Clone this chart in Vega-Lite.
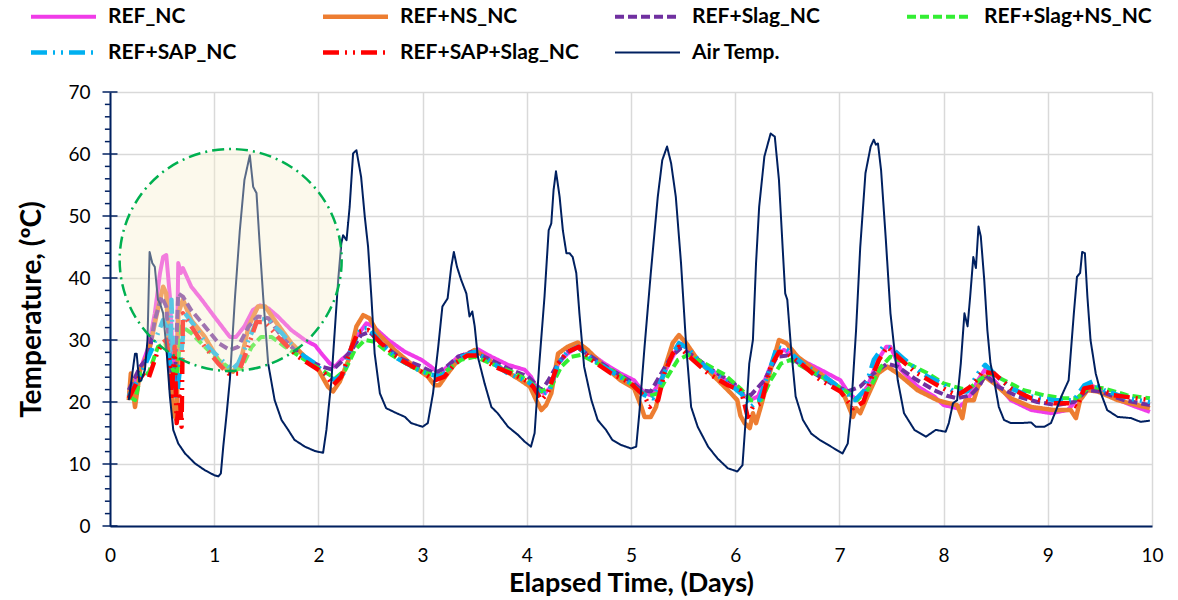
{
"$schema": "https://vega.github.io/schema/vega-lite/v6.json",
"width": 1042, "height": 434,
"autosize": {"type": "none"},
"padding": {"left": 110, "top": 92, "right": 26, "bottom": 74},
"background": "white",
"config": {"view": {"stroke": null}, "font": "Lato"},
"datasets": {
"circle": [{"day": 1.158, "temp": 42.9}],
"majorTicks": [{"temp":0},{"temp":10},{"temp":20},{"temp":30},{"temp":40},{"temp":50},{"temp":60},{"temp":70}],
"minorTicks": [{"temp":2},{"temp":4},{"temp":6},{"temp":8},{"temp":12},{"temp":14},{"temp":16},{"temp":18},{"temp":22},{"temp":24},{"temp":26},{"temp":28},{"temp":32},{"temp":34},{"temp":36},{"temp":38},{"temp":42},{"temp":44},{"temp":46},{"temp":48},{"temp":52},{"temp":54},{"temp":56},{"temp":58},{"temp":62},{"temp":64},{"temp":66},{"temp":68}],
"temps": [
{"series":"REF_NC","day":0.18,"temp":21.4},{"series":"REF_NC","day":0.29,"temp":25.2},{"series":"REF_NC","day":0.37,"temp":28.9},{"series":"REF_NC","day":0.43,"temp":34.3},{"series":"REF_NC","day":0.48,"temp":40.8},{"series":"REF_NC","day":0.51,"temp":43.4},{"series":"REF_NC","day":0.54,"temp":43.7},{"series":"REF_NC","day":0.575,"temp":37},{"series":"REF_NC","day":0.607,"temp":26.2},{"series":"REF_NC","day":0.64,"temp":24.6},{"series":"REF_NC","day":0.655,"temp":42.4},{"series":"REF_NC","day":0.68,"temp":40.8},{"series":"REF_NC","day":0.7,"temp":41.6},{"series":"REF_NC","day":0.78,"temp":38.6},{"series":"REF_NC","day":0.88,"temp":36.5},{"series":"REF_NC","day":1.0,"temp":33.8},{"series":"REF_NC","day":1.1,"temp":31.6},{"series":"REF_NC","day":1.15,"temp":30.5},{"series":"REF_NC","day":1.21,"temp":30.5},{"series":"REF_NC","day":1.29,"temp":32.2},{"series":"REF_NC","day":1.37,"temp":34.8},{"series":"REF_NC","day":1.44,"temp":35.6},{"series":"REF_NC","day":1.52,"temp":35.1},{"series":"REF_NC","day":1.61,"temp":33.8},{"series":"REF_NC","day":1.74,"temp":31.6},{"series":"REF_NC","day":1.87,"temp":30},{"series":"REF_NC","day":1.97,"temp":29.1},{"series":"REF_NC","day":2.03,"temp":27.8},{"series":"REF_NC","day":2.11,"temp":26.2},{"series":"REF_NC","day":2.16,"temp":25.7},{"series":"REF_NC","day":2.22,"temp":26.8},{"series":"REF_NC","day":2.29,"temp":27.8},{"series":"REF_NC","day":2.365,"temp":30.5},{"series":"REF_NC","day":2.46,"temp":32.7},{"series":"REF_NC","day":2.525,"temp":32.2},{"series":"REF_NC","day":2.67,"temp":30},{"series":"REF_NC","day":2.83,"temp":28.1},{"series":"REF_NC","day":2.99,"temp":26.8},{"series":"REF_NC","day":3.08,"temp":25.7},{"series":"REF_NC","day":3.16,"temp":24.6},{"series":"REF_NC","day":3.24,"temp":25.7},{"series":"REF_NC","day":3.34,"temp":27.3},{"series":"REF_NC","day":3.43,"temp":27.8},{"series":"REF_NC","day":3.53,"temp":28.5},{"series":"REF_NC","day":3.66,"temp":27.3},{"series":"REF_NC","day":3.82,"temp":26},{"series":"REF_NC","day":3.98,"temp":25.2},{"series":"REF_NC","day":4.04,"temp":24.1},{"series":"REF_NC","day":4.106,"temp":21.9},{"series":"REF_NC","day":4.17,"temp":21.4},{"series":"REF_NC","day":4.235,"temp":22.5},{"series":"REF_NC","day":4.3,"temp":26.2},{"series":"REF_NC","day":4.39,"temp":27.8},{"series":"REF_NC","day":4.49,"temp":28.9},{"series":"REF_NC","day":4.585,"temp":28.1},{"series":"REF_NC","day":4.745,"temp":26.2},{"series":"REF_NC","day":4.9,"temp":24.6},{"series":"REF_NC","day":5.03,"temp":23.5},{"series":"REF_NC","day":5.13,"temp":21.4},{"series":"REF_NC","day":5.19,"temp":21.1},{"series":"REF_NC","day":5.25,"temp":22.5},{"series":"REF_NC","day":5.35,"temp":25.7},{"series":"REF_NC","day":5.45,"temp":28.9},{"series":"REF_NC","day":5.5,"temp":29.5},{"series":"REF_NC","day":5.61,"temp":27.3},{"series":"REF_NC","day":5.77,"temp":25.2},{"series":"REF_NC","day":5.93,"temp":23.3},{"series":"REF_NC","day":6.0,"temp":22.7},{"series":"REF_NC","day":6.06,"temp":21.4},{"series":"REF_NC","day":6.14,"temp":20.3},{"series":"REF_NC","day":6.22,"temp":20.9},{"series":"REF_NC","day":6.31,"temp":24.6},{"series":"REF_NC","day":6.39,"temp":27.8},{"series":"REF_NC","day":6.47,"temp":28.4},{"series":"REF_NC","day":6.63,"temp":26.8},{"series":"REF_NC","day":6.82,"temp":25.2},{"series":"REF_NC","day":7.01,"temp":23.5},{"series":"REF_NC","day":7.09,"temp":21.4},{"series":"REF_NC","day":7.17,"temp":20.3},{"series":"REF_NC","day":7.27,"temp":22.5},{"series":"REF_NC","day":7.37,"temp":26.8},{"series":"REF_NC","day":7.45,"temp":28.9},{"series":"REF_NC","day":7.49,"temp":28.9},{"series":"REF_NC","day":7.59,"temp":25.2},{"series":"REF_NC","day":7.75,"temp":22.5},{"series":"REF_NC","day":7.91,"temp":20.9},{"series":"REF_NC","day":8.0,"temp":19.5},{"series":"REF_NC","day":8.13,"temp":19},{"series":"REF_NC","day":8.23,"temp":20.3},{"series":"REF_NC","day":8.33,"temp":23.5},{"series":"REF_NC","day":8.395,"temp":25.2},{"series":"REF_NC","day":8.485,"temp":23.5},{"series":"REF_NC","day":8.645,"temp":20.3},{"series":"REF_NC","day":8.84,"temp":18.7},{"series":"REF_NC","day":9.03,"temp":18.2},{"series":"REF_NC","day":9.19,"temp":18.7},{"series":"REF_NC","day":9.28,"temp":20.3},{"series":"REF_NC","day":9.38,"temp":22.5},{"series":"REF_NC","day":9.44,"temp":22.5},{"series":"REF_NC","day":9.6,"temp":20.9},{"series":"REF_NC","day":9.8,"temp":19.5},{"series":"REF_NC","day":9.98,"temp":18.4},
{"series":"REF+NS_NC","day":0.18,"temp":20.3},{"series":"REF+NS_NC","day":0.2,"temp":24.6},{"series":"REF+NS_NC","day":0.24,"temp":19.2},{"series":"REF+NS_NC","day":0.29,"temp":25.2},{"series":"REF+NS_NC","day":0.37,"temp":27.8},{"series":"REF+NS_NC","day":0.45,"temp":34.3},{"series":"REF+NS_NC","day":0.51,"temp":38.6},{"series":"REF+NS_NC","day":0.54,"temp":37.5},{"series":"REF+NS_NC","day":0.575,"temp":26.2},{"series":"REF+NS_NC","day":0.607,"temp":18.2},{"series":"REF+NS_NC","day":0.64,"temp":17.1},{"series":"REF+NS_NC","day":0.655,"temp":34.3},{"series":"REF+NS_NC","day":0.7,"temp":36.5},{"series":"REF+NS_NC","day":0.78,"temp":33.2},{"series":"REF+NS_NC","day":0.91,"temp":30.5},{"series":"REF+NS_NC","day":1.04,"temp":26.8},{"series":"REF+NS_NC","day":1.12,"temp":25.2},{"series":"REF+NS_NC","day":1.18,"temp":24.9},{"series":"REF+NS_NC","day":1.25,"temp":26.2},{"series":"REF+NS_NC","day":1.33,"temp":32.2},{"series":"REF+NS_NC","day":1.42,"temp":35.4},{"series":"REF+NS_NC","day":1.49,"temp":35.4},{"series":"REF+NS_NC","day":1.58,"temp":33.2},{"series":"REF+NS_NC","day":1.74,"temp":29.5},{"series":"REF+NS_NC","day":1.87,"temp":27.3},{"series":"REF+NS_NC","day":2.0,"temp":25.2},{"series":"REF+NS_NC","day":2.09,"temp":22.5},{"series":"REF+NS_NC","day":2.14,"temp":21.7},{"series":"REF+NS_NC","day":2.205,"temp":23.3},{"series":"REF+NS_NC","day":2.29,"temp":26.8},{"series":"REF+NS_NC","day":2.365,"temp":32.2},{"series":"REF+NS_NC","day":2.43,"temp":34},{"series":"REF+NS_NC","day":2.49,"temp":33.5},{"series":"REF+NS_NC","day":2.57,"temp":31.1},{"series":"REF+NS_NC","day":2.73,"temp":28.4},{"series":"REF+NS_NC","day":2.92,"temp":25.7},{"series":"REF+NS_NC","day":3.05,"temp":24.1},{"series":"REF+NS_NC","day":3.115,"temp":22.7},{"series":"REF+NS_NC","day":3.16,"temp":22.7},{"series":"REF+NS_NC","day":3.24,"temp":24.6},{"series":"REF+NS_NC","day":3.34,"temp":26.8},{"series":"REF+NS_NC","day":3.5,"temp":28.4},{"series":"REF+NS_NC","day":3.595,"temp":27.3},{"series":"REF+NS_NC","day":3.755,"temp":25.4},{"series":"REF+NS_NC","day":3.915,"temp":23.8},{"series":"REF+NS_NC","day":4.03,"temp":22.5},{"series":"REF+NS_NC","day":4.09,"temp":20.3},{"series":"REF+NS_NC","day":4.14,"temp":18.7},{"series":"REF+NS_NC","day":4.185,"temp":19.5},{"series":"REF+NS_NC","day":4.235,"temp":21.4},{"series":"REF+NS_NC","day":4.3,"temp":27.8},{"series":"REF+NS_NC","day":4.39,"temp":28.9},{"series":"REF+NS_NC","day":4.49,"temp":29.6},{"series":"REF+NS_NC","day":4.585,"temp":28.4},{"series":"REF+NS_NC","day":4.745,"temp":25.7},{"series":"REF+NS_NC","day":4.9,"temp":23.5},{"series":"REF+NS_NC","day":5.03,"temp":22.2},{"series":"REF+NS_NC","day":5.1,"temp":19.2},{"series":"REF+NS_NC","day":5.13,"temp":17.6},{"series":"REF+NS_NC","day":5.19,"temp":17.6},{"series":"REF+NS_NC","day":5.24,"temp":19.2},{"series":"REF+NS_NC","day":5.32,"temp":25.2},{"series":"REF+NS_NC","day":5.4,"temp":29.5},{"series":"REF+NS_NC","day":5.46,"temp":30.8},{"series":"REF+NS_NC","day":5.53,"temp":29.5},{"series":"REF+NS_NC","day":5.64,"temp":26.8},{"series":"REF+NS_NC","day":5.8,"temp":24.1},{"series":"REF+NS_NC","day":5.96,"temp":21.4},{"series":"REF+NS_NC","day":6.02,"temp":20.3},{"series":"REF+NS_NC","day":6.05,"temp":17.8},{"series":"REF+NS_NC","day":6.09,"temp":16.6},{"series":"REF+NS_NC","day":6.14,"temp":15.8},{"series":"REF+NS_NC","day":6.17,"temp":18.2},{"series":"REF+NS_NC","day":6.2,"temp":16.6},{"series":"REF+NS_NC","day":6.25,"temp":19.5},{"series":"REF+NS_NC","day":6.34,"temp":25.2},{"series":"REF+NS_NC","day":6.42,"temp":30},{"series":"REF+NS_NC","day":6.49,"temp":29.5},{"series":"REF+NS_NC","day":6.6,"temp":27.3},{"series":"REF+NS_NC","day":6.76,"temp":25.2},{"series":"REF+NS_NC","day":6.95,"temp":23},{"series":"REF+NS_NC","day":7.05,"temp":20.9},{"series":"REF+NS_NC","day":7.13,"temp":17.6},{"series":"REF+NS_NC","day":7.16,"temp":19},{"series":"REF+NS_NC","day":7.2,"temp":18.2},{"series":"REF+NS_NC","day":7.27,"temp":20.9},{"series":"REF+NS_NC","day":7.37,"temp":24.6},{"series":"REF+NS_NC","day":7.46,"temp":25.7},{"series":"REF+NS_NC","day":7.56,"temp":24.6},{"series":"REF+NS_NC","day":7.75,"temp":21.9},{"series":"REF+NS_NC","day":7.94,"temp":20.3},{"series":"REF+NS_NC","day":8.0,"temp":20},{"series":"REF+NS_NC","day":8.13,"temp":19.5},{"series":"REF+NS_NC","day":8.18,"temp":17.4},{"series":"REF+NS_NC","day":8.21,"temp":20.3},{"series":"REF+NS_NC","day":8.29,"temp":20.3},{"series":"REF+NS_NC","day":8.33,"temp":22.5},{"series":"REF+NS_NC","day":8.395,"temp":24.1},{"series":"REF+NS_NC","day":8.485,"temp":23},{"series":"REF+NS_NC","day":8.645,"temp":20.6},{"series":"REF+NS_NC","day":8.84,"temp":19.2},{"series":"REF+NS_NC","day":9.06,"temp":18.7},{"series":"REF+NS_NC","day":9.22,"temp":18.7},{"series":"REF+NS_NC","day":9.27,"temp":17.4},{"series":"REF+NS_NC","day":9.31,"temp":20.3},{"series":"REF+NS_NC","day":9.38,"temp":21.9},{"series":"REF+NS_NC","day":9.48,"temp":21.7},{"series":"REF+NS_NC","day":9.67,"temp":20.3},{"series":"REF+NS_NC","day":9.98,"temp":19},
{"series":"REF+Slag_NC","day":0.18,"temp":21.9},{"series":"REF+Slag_NC","day":0.29,"temp":25.7},{"series":"REF+Slag_NC","day":0.37,"temp":27.3},{"series":"REF+Slag_NC","day":0.43,"temp":33.2},{"series":"REF+Slag_NC","day":0.495,"temp":37},{"series":"REF+Slag_NC","day":0.54,"temp":35.4},{"series":"REF+Slag_NC","day":0.59,"temp":24.6},{"series":"REF+Slag_NC","day":0.62,"temp":22.5},{"series":"REF+Slag_NC","day":0.655,"temp":37.5},{"series":"REF+Slag_NC","day":0.7,"temp":37},{"series":"REF+Slag_NC","day":0.78,"temp":34.8},{"series":"REF+Slag_NC","day":0.91,"temp":32.2},{"series":"REF+Slag_NC","day":1.04,"temp":29.5},{"series":"REF+Slag_NC","day":1.15,"temp":28.4},{"series":"REF+Slag_NC","day":1.23,"temp":28.9},{"series":"REF+Slag_NC","day":1.33,"temp":32.2},{"series":"REF+Slag_NC","day":1.42,"temp":33.8},{"series":"REF+Slag_NC","day":1.52,"temp":33.5},{"series":"REF+Slag_NC","day":1.65,"temp":30.5},{"series":"REF+Slag_NC","day":1.77,"temp":28.4},{"series":"REF+Slag_NC","day":1.9,"temp":26.8},{"series":"REF+Slag_NC","day":2.03,"temp":25.7},{"series":"REF+Slag_NC","day":2.14,"temp":25.2},{"series":"REF+Slag_NC","day":2.22,"temp":26.5},{"series":"REF+Slag_NC","day":2.32,"temp":28.4},{"series":"REF+Slag_NC","day":2.41,"temp":30.8},{"series":"REF+Slag_NC","day":2.49,"temp":31.3},{"series":"REF+Slag_NC","day":2.6,"temp":29.5},{"series":"REF+Slag_NC","day":2.79,"temp":27},{"series":"REF+Slag_NC","day":2.99,"temp":25.7},{"series":"REF+Slag_NC","day":3.115,"temp":24.6},{"series":"REF+Slag_NC","day":3.23,"temp":25.7},{"series":"REF+Slag_NC","day":3.34,"temp":27.3},{"series":"REF+Slag_NC","day":3.47,"temp":28.1},{"series":"REF+Slag_NC","day":3.63,"temp":27},{"series":"REF+Slag_NC","day":3.82,"temp":25.4},{"series":"REF+Slag_NC","day":4.01,"temp":24.1},{"series":"REF+Slag_NC","day":4.06,"temp":23.3},{"series":"REF+Slag_NC","day":4.14,"temp":21.9},{"series":"REF+Slag_NC","day":4.2,"temp":23.3},{"series":"REF+Slag_NC","day":4.3,"temp":26.2},{"series":"REF+Slag_NC","day":4.39,"temp":28.1},{"series":"REF+Slag_NC","day":4.49,"temp":28.7},{"series":"REF+Slag_NC","day":4.62,"temp":27.3},{"series":"REF+Slag_NC","day":4.81,"temp":25.2},{"series":"REF+Slag_NC","day":5.0,"temp":23.3},{"series":"REF+Slag_NC","day":5.1,"temp":21.9},{"series":"REF+Slag_NC","day":5.19,"temp":21.7},{"series":"REF+Slag_NC","day":5.29,"temp":24.6},{"series":"REF+Slag_NC","day":5.385,"temp":27.3},{"series":"REF+Slag_NC","day":5.48,"temp":28.7},{"series":"REF+Slag_NC","day":5.61,"temp":27.3},{"series":"REF+Slag_NC","day":5.8,"temp":24.9},{"series":"REF+Slag_NC","day":5.99,"temp":23},{"series":"REF+Slag_NC","day":6.06,"temp":21.4},{"series":"REF+Slag_NC","day":6.15,"temp":21.1},{"series":"REF+Slag_NC","day":6.28,"temp":23.5},{"series":"REF+Slag_NC","day":6.4,"temp":27.3},{"series":"REF+Slag_NC","day":6.5,"temp":27.5},{"series":"REF+Slag_NC","day":6.7,"temp":25.2},{"series":"REF+Slag_NC","day":6.92,"temp":23},{"series":"REF+Slag_NC","day":7.08,"temp":21.7},{"series":"REF+Slag_NC","day":7.2,"temp":22.5},{"series":"REF+Slag_NC","day":7.33,"temp":24.6},{"series":"REF+Slag_NC","day":7.46,"temp":26.2},{"series":"REF+Slag_NC","day":7.56,"temp":25.7},{"series":"REF+Slag_NC","day":7.72,"temp":23.8},{"series":"REF+Slag_NC","day":7.91,"temp":21.9},{"series":"REF+Slag_NC","day":8.03,"temp":21},{"series":"REF+Slag_NC","day":8.13,"temp":20.6},{"series":"REF+Slag_NC","day":8.26,"temp":21.1},{"series":"REF+Slag_NC","day":8.34,"temp":22.5},{"series":"REF+Slag_NC","day":8.4,"temp":24.4},{"series":"REF+Slag_NC","day":8.52,"temp":22.5},{"series":"REF+Slag_NC","day":8.71,"temp":20.9},{"series":"REF+Slag_NC","day":8.9,"temp":20},{"series":"REF+Slag_NC","day":9.09,"temp":19.5},{"series":"REF+Slag_NC","day":9.25,"temp":20},{"series":"REF+Slag_NC","day":9.38,"temp":21.9},{"series":"REF+Slag_NC","day":9.5,"temp":21.7},{"series":"REF+Slag_NC","day":9.73,"temp":20.3},{"series":"REF+Slag_NC","day":9.98,"temp":19.5},
{"series":"REF+Slag+NS_NC","day":0.18,"temp":20.9},{"series":"REF+Slag+NS_NC","day":0.24,"temp":20.3},{"series":"REF+Slag+NS_NC","day":0.3,"temp":24.6},{"series":"REF+Slag+NS_NC","day":0.37,"temp":24.6},{"series":"REF+Slag+NS_NC","day":0.46,"temp":28.9},{"series":"REF+Slag+NS_NC","day":0.53,"temp":29.5},{"series":"REF+Slag+NS_NC","day":0.59,"temp":25.7},{"series":"REF+Slag+NS_NC","day":0.64,"temp":24.1},{"series":"REF+Slag+NS_NC","day":0.687,"temp":32.2},{"series":"REF+Slag+NS_NC","day":0.78,"temp":31.1},{"series":"REF+Slag+NS_NC","day":0.91,"temp":28.9},{"series":"REF+Slag+NS_NC","day":1.04,"temp":26.8},{"series":"REF+Slag+NS_NC","day":1.17,"temp":25.2},{"series":"REF+Slag+NS_NC","day":1.26,"temp":25.4},{"series":"REF+Slag+NS_NC","day":1.36,"temp":28.9},{"series":"REF+Slag+NS_NC","day":1.45,"temp":30.5},{"series":"REF+Slag+NS_NC","day":1.55,"temp":30.5},{"series":"REF+Slag+NS_NC","day":1.68,"temp":28.9},{"series":"REF+Slag+NS_NC","day":1.87,"temp":26.8},{"series":"REF+Slag+NS_NC","day":2.03,"temp":25.2},{"series":"REF+Slag+NS_NC","day":2.16,"temp":23.8},{"series":"REF+Slag+NS_NC","day":2.26,"temp":25.2},{"series":"REF+Slag+NS_NC","day":2.35,"temp":28.4},{"series":"REF+Slag+NS_NC","day":2.445,"temp":30},{"series":"REF+Slag+NS_NC","day":2.54,"temp":29.7},{"series":"REF+Slag+NS_NC","day":2.7,"temp":27.6},{"series":"REF+Slag+NS_NC","day":2.89,"temp":25.7},{"series":"REF+Slag+NS_NC","day":3.05,"temp":24.6},{"series":"REF+Slag+NS_NC","day":3.15,"temp":24.1},{"series":"REF+Slag+NS_NC","day":3.24,"temp":25.2},{"series":"REF+Slag+NS_NC","day":3.37,"temp":26.8},{"series":"REF+Slag+NS_NC","day":3.5,"temp":27.3},{"series":"REF+Slag+NS_NC","day":3.66,"temp":26.2},{"series":"REF+Slag+NS_NC","day":3.85,"temp":24.9},{"series":"REF+Slag+NS_NC","day":4.01,"temp":23.5},{"series":"REF+Slag+NS_NC","day":4.14,"temp":21.7},{"series":"REF+Slag+NS_NC","day":4.235,"temp":22.5},{"series":"REF+Slag+NS_NC","day":4.33,"temp":25.7},{"series":"REF+Slag+NS_NC","day":4.43,"temp":27.3},{"series":"REF+Slag+NS_NC","day":4.52,"temp":27.6},{"series":"REF+Slag+NS_NC","day":4.68,"temp":26.2},{"series":"REF+Slag+NS_NC","day":4.87,"temp":24.6},{"series":"REF+Slag+NS_NC","day":5.03,"temp":22.5},{"series":"REF+Slag+NS_NC","day":5.16,"temp":20.9},{"series":"REF+Slag+NS_NC","day":5.26,"temp":21.4},{"series":"REF+Slag+NS_NC","day":5.35,"temp":24.1},{"series":"REF+Slag+NS_NC","day":5.45,"temp":26.8},{"series":"REF+Slag+NS_NC","day":5.55,"temp":27.6},{"series":"REF+Slag+NS_NC","day":5.71,"temp":26.2},{"series":"REF+Slag+NS_NC","day":5.9,"temp":24.4},{"series":"REF+Slag+NS_NC","day":6.06,"temp":22},{"series":"REF+Slag+NS_NC","day":6.15,"temp":20.3},{"series":"REF+Slag+NS_NC","day":6.25,"temp":20.3},{"series":"REF+Slag+NS_NC","day":6.34,"temp":23.5},{"series":"REF+Slag+NS_NC","day":6.44,"temp":26.2},{"series":"REF+Slag+NS_NC","day":6.53,"temp":26.8},{"series":"REF+Slag+NS_NC","day":6.7,"temp":25.2},{"series":"REF+Slag+NS_NC","day":6.89,"temp":23.5},{"series":"REF+Slag+NS_NC","day":7.05,"temp":21.9},{"series":"REF+Slag+NS_NC","day":7.17,"temp":20.3},{"series":"REF+Slag+NS_NC","day":7.3,"temp":22.5},{"series":"REF+Slag+NS_NC","day":7.4,"temp":25.7},{"series":"REF+Slag+NS_NC","day":7.49,"temp":27.3},{"series":"REF+Slag+NS_NC","day":7.66,"temp":26.2},{"series":"REF+Slag+NS_NC","day":7.85,"temp":24.6},{"series":"REF+Slag+NS_NC","day":8.0,"temp":23},{"series":"REF+Slag+NS_NC","day":8.1,"temp":22.5},{"series":"REF+Slag+NS_NC","day":8.23,"temp":21.9},{"series":"REF+Slag+NS_NC","day":8.36,"temp":23.8},{"series":"REF+Slag+NS_NC","day":8.45,"temp":24.6},{"series":"REF+Slag+NS_NC","day":8.58,"temp":23.5},{"series":"REF+Slag+NS_NC","day":8.77,"temp":21.9},{"series":"REF+Slag+NS_NC","day":8.96,"temp":21.1},{"series":"REF+Slag+NS_NC","day":9.15,"temp":20.6},{"series":"REF+Slag+NS_NC","day":9.28,"temp":20.6},{"series":"REF+Slag+NS_NC","day":9.4,"temp":22.5},{"series":"REF+Slag+NS_NC","day":9.54,"temp":22.2},{"series":"REF+Slag+NS_NC","day":9.76,"temp":21.1},{"series":"REF+Slag+NS_NC","day":9.98,"temp":20.6},
{"series":"REF+SAP_NC","day":0.18,"temp":20.9},{"series":"REF+SAP_NC","day":0.3,"temp":24.6},{"series":"REF+SAP_NC","day":0.4,"temp":28.4},{"series":"REF+SAP_NC","day":0.46,"temp":31.1},{"series":"REF+SAP_NC","day":0.51,"temp":33.2},{"series":"REF+SAP_NC","day":0.54,"temp":32.2},{"series":"REF+SAP_NC","day":0.575,"temp":26.2},{"series":"REF+SAP_NC","day":0.59,"temp":36.5},{"series":"REF+SAP_NC","day":0.61,"temp":23.5},{"series":"REF+SAP_NC","day":0.64,"temp":20.3},{"series":"REF+SAP_NC","day":0.67,"temp":25.2},{"series":"REF+SAP_NC","day":0.72,"temp":34.3},{"series":"REF+SAP_NC","day":0.815,"temp":32.2},{"series":"REF+SAP_NC","day":0.94,"temp":28.9},{"series":"REF+SAP_NC","day":1.07,"temp":26.8},{"series":"REF+SAP_NC","day":1.17,"temp":25.2},{"series":"REF+SAP_NC","day":1.23,"temp":26.2},{"series":"REF+SAP_NC","day":1.33,"temp":30},{"series":"REF+SAP_NC","day":1.42,"temp":33.5},{"series":"REF+SAP_NC","day":1.52,"temp":33.2},{"series":"REF+SAP_NC","day":1.65,"temp":31.1},{"series":"REF+SAP_NC","day":1.8,"temp":28.1},{"series":"REF+SAP_NC","day":1.97,"temp":26.2},{"series":"REF+SAP_NC","day":2.06,"temp":24.6},{"series":"REF+SAP_NC","day":2.16,"temp":23.5},{"series":"REF+SAP_NC","day":2.24,"temp":24.6},{"series":"REF+SAP_NC","day":2.32,"temp":28.9},{"series":"REF+SAP_NC","day":2.41,"temp":31.9},{"series":"REF+SAP_NC","day":2.49,"temp":31.9},{"series":"REF+SAP_NC","day":2.6,"temp":29.5},{"series":"REF+SAP_NC","day":2.76,"temp":27},{"series":"REF+SAP_NC","day":2.955,"temp":25.2},{"series":"REF+SAP_NC","day":3.08,"temp":24.4},{"series":"REF+SAP_NC","day":3.18,"temp":24.1},{"series":"REF+SAP_NC","day":3.275,"temp":25.7},{"series":"REF+SAP_NC","day":3.37,"temp":27.3},{"series":"REF+SAP_NC","day":3.5,"temp":28.1},{"series":"REF+SAP_NC","day":3.63,"temp":26.8},{"series":"REF+SAP_NC","day":3.82,"temp":24.6},{"series":"REF+SAP_NC","day":4.01,"temp":23.3},{"series":"REF+SAP_NC","day":4.06,"temp":22.6},{"series":"REF+SAP_NC","day":4.14,"temp":21.1},{"series":"REF+SAP_NC","day":4.22,"temp":21.9},{"series":"REF+SAP_NC","day":4.3,"temp":26.2},{"series":"REF+SAP_NC","day":4.39,"temp":28.1},{"series":"REF+SAP_NC","day":4.49,"temp":28.9},{"series":"REF+SAP_NC","day":4.62,"temp":27},{"series":"REF+SAP_NC","day":4.81,"temp":24.9},{"series":"REF+SAP_NC","day":5.0,"temp":23},{"series":"REF+SAP_NC","day":5.13,"temp":21.1},{"series":"REF+SAP_NC","day":5.21,"temp":20.6},{"series":"REF+SAP_NC","day":5.29,"temp":23.5},{"series":"REF+SAP_NC","day":5.385,"temp":27.3},{"series":"REF+SAP_NC","day":5.46,"temp":29.5},{"series":"REF+SAP_NC","day":5.54,"temp":28.7},{"series":"REF+SAP_NC","day":5.71,"temp":25.7},{"series":"REF+SAP_NC","day":5.9,"temp":23.5},{"series":"REF+SAP_NC","day":6.06,"temp":21.3},{"series":"REF+SAP_NC","day":6.15,"temp":19.2},{"series":"REF+SAP_NC","day":6.23,"temp":20.3},{"series":"REF+SAP_NC","day":6.34,"temp":25.7},{"series":"REF+SAP_NC","day":6.4,"temp":28.9},{"series":"REF+SAP_NC","day":6.5,"temp":28.4},{"series":"REF+SAP_NC","day":6.66,"temp":26},{"series":"REF+SAP_NC","day":6.86,"temp":24.1},{"series":"REF+SAP_NC","day":7.05,"temp":21.7},{"series":"REF+SAP_NC","day":7.15,"temp":20.3},{"series":"REF+SAP_NC","day":7.24,"temp":21.9},{"series":"REF+SAP_NC","day":7.33,"temp":26.8},{"series":"REF+SAP_NC","day":7.42,"temp":28.9},{"series":"REF+SAP_NC","day":7.5,"temp":28.7},{"series":"REF+SAP_NC","day":7.63,"temp":26.8},{"series":"REF+SAP_NC","day":7.79,"temp":24.6},{"series":"REF+SAP_NC","day":7.98,"temp":23},{"series":"REF+SAP_NC","day":8.1,"temp":21.7},{"series":"REF+SAP_NC","day":8.23,"temp":21.7},{"series":"REF+SAP_NC","day":8.33,"temp":24.6},{"series":"REF+SAP_NC","day":8.4,"temp":26},{"series":"REF+SAP_NC","day":8.485,"temp":24.6},{"series":"REF+SAP_NC","day":8.645,"temp":22.2},{"series":"REF+SAP_NC","day":8.84,"temp":20.9},{"series":"REF+SAP_NC","day":9.06,"temp":20.3},{"series":"REF+SAP_NC","day":9.25,"temp":20.3},{"series":"REF+SAP_NC","day":9.35,"temp":22.7},{"series":"REF+SAP_NC","day":9.43,"temp":23.3},{"series":"REF+SAP_NC","day":9.54,"temp":21.9},{"series":"REF+SAP_NC","day":9.76,"temp":20.6},{"series":"REF+SAP_NC","day":9.98,"temp":20},
{"series":"REF+SAP+Slag_NC","day":0.18,"temp":20.6},{"series":"REF+SAP+Slag_NC","day":0.3,"temp":24.6},{"series":"REF+SAP+Slag_NC","day":0.37,"temp":23.8},{"series":"REF+SAP+Slag_NC","day":0.45,"temp":27.8},{"series":"REF+SAP+Slag_NC","day":0.5,"temp":29.5},{"series":"REF+SAP+Slag_NC","day":0.54,"temp":30},{"series":"REF+SAP+Slag_NC","day":0.575,"temp":26.2},{"series":"REF+SAP+Slag_NC","day":0.59,"temp":20.3},{"series":"REF+SAP+Slag_NC","day":0.62,"temp":28.9},{"series":"REF+SAP+Slag_NC","day":0.64,"temp":16.6},{"series":"REF+SAP+Slag_NC","day":0.67,"temp":20.9},{"series":"REF+SAP+Slag_NC","day":0.687,"temp":16},{"series":"REF+SAP+Slag_NC","day":0.7,"temp":34.3},{"series":"REF+SAP+Slag_NC","day":0.78,"temp":32.2},{"series":"REF+SAP+Slag_NC","day":0.91,"temp":28.9},{"series":"REF+SAP+Slag_NC","day":1.04,"temp":26.2},{"series":"REF+SAP+Slag_NC","day":1.135,"temp":24.6},{"series":"REF+SAP+Slag_NC","day":1.23,"temp":24.6},{"series":"REF+SAP+Slag_NC","day":1.326,"temp":28.9},{"series":"REF+SAP+Slag_NC","day":1.406,"temp":32.9},{"series":"REF+SAP+Slag_NC","day":1.486,"temp":32.9},{"series":"REF+SAP+Slag_NC","day":1.61,"temp":30.5},{"series":"REF+SAP+Slag_NC","day":1.805,"temp":27.3},{"series":"REF+SAP+Slag_NC","day":2.0,"temp":25.2},{"series":"REF+SAP+Slag_NC","day":2.06,"temp":24.6},{"series":"REF+SAP+Slag_NC","day":2.14,"temp":22.7},{"series":"REF+SAP+Slag_NC","day":2.22,"temp":24.1},{"series":"REF+SAP+Slag_NC","day":2.32,"temp":28.9},{"series":"REF+SAP+Slag_NC","day":2.38,"temp":31.3},{"series":"REF+SAP+Slag_NC","day":2.48,"temp":31.6},{"series":"REF+SAP+Slag_NC","day":2.6,"temp":29.5},{"series":"REF+SAP+Slag_NC","day":2.79,"temp":26.8},{"series":"REF+SAP+Slag_NC","day":2.99,"temp":24.9},{"series":"REF+SAP+Slag_NC","day":3.115,"temp":23.5},{"series":"REF+SAP+Slag_NC","day":3.21,"temp":24.1},{"series":"REF+SAP+Slag_NC","day":3.31,"temp":26.2},{"series":"REF+SAP+Slag_NC","day":3.43,"temp":27.5},{"series":"REF+SAP+Slag_NC","day":3.53,"temp":27.5},{"series":"REF+SAP+Slag_NC","day":3.69,"temp":25.7},{"series":"REF+SAP+Slag_NC","day":3.88,"temp":24.4},{"series":"REF+SAP+Slag_NC","day":4.01,"temp":23.3},{"series":"REF+SAP+Slag_NC","day":4.06,"temp":22.5},{"series":"REF+SAP+Slag_NC","day":4.14,"temp":20.3},{"series":"REF+SAP+Slag_NC","day":4.2,"temp":21.4},{"series":"REF+SAP+Slag_NC","day":4.3,"temp":26.2},{"series":"REF+SAP+Slag_NC","day":4.39,"temp":28.1},{"series":"REF+SAP+Slag_NC","day":4.5,"temp":28.9},{"series":"REF+SAP+Slag_NC","day":4.62,"temp":26.8},{"series":"REF+SAP+Slag_NC","day":4.81,"temp":24.6},{"series":"REF+SAP+Slag_NC","day":5.0,"temp":23},{"series":"REF+SAP+Slag_NC","day":5.13,"temp":20.9},{"series":"REF+SAP+Slag_NC","day":5.18,"temp":19.2},{"series":"REF+SAP+Slag_NC","day":5.26,"temp":20.3},{"series":"REF+SAP+Slag_NC","day":5.32,"temp":24.6},{"series":"REF+SAP+Slag_NC","day":5.4,"temp":27.8},{"series":"REF+SAP+Slag_NC","day":5.46,"temp":28.9},{"series":"REF+SAP+Slag_NC","day":5.58,"temp":27},{"series":"REF+SAP+Slag_NC","day":5.74,"temp":24.6},{"series":"REF+SAP+Slag_NC","day":5.93,"temp":22.7},{"series":"REF+SAP+Slag_NC","day":6.05,"temp":21.9},{"series":"REF+SAP+Slag_NC","day":6.08,"temp":20.3},{"series":"REF+SAP+Slag_NC","day":6.12,"temp":17.6},{"series":"REF+SAP+Slag_NC","day":6.17,"temp":19.2},{"series":"REF+SAP+Slag_NC","day":6.25,"temp":19.8},{"series":"REF+SAP+Slag_NC","day":6.34,"temp":25.7},{"series":"REF+SAP+Slag_NC","day":6.42,"temp":28.1},{"series":"REF+SAP+Slag_NC","day":6.5,"temp":27.8},{"series":"REF+SAP+Slag_NC","day":6.63,"temp":26.2},{"series":"REF+SAP+Slag_NC","day":6.82,"temp":23.5},{"series":"REF+SAP+Slag_NC","day":7.01,"temp":21.7},{"series":"REF+SAP+Slag_NC","day":7.13,"temp":19},{"series":"REF+SAP+Slag_NC","day":7.23,"temp":20},{"series":"REF+SAP+Slag_NC","day":7.3,"temp":23.5},{"series":"REF+SAP+Slag_NC","day":7.38,"temp":26.8},{"series":"REF+SAP+Slag_NC","day":7.46,"temp":28.9},{"series":"REF+SAP+Slag_NC","day":7.56,"temp":27.3},{"series":"REF+SAP+Slag_NC","day":7.72,"temp":24.9},{"series":"REF+SAP+Slag_NC","day":7.91,"temp":23},{"series":"REF+SAP+Slag_NC","day":8.05,"temp":21.7},{"series":"REF+SAP+Slag_NC","day":8.13,"temp":21.1},{"series":"REF+SAP+Slag_NC","day":8.19,"temp":21.7},{"series":"REF+SAP+Slag_NC","day":8.26,"temp":22.5},{"series":"REF+SAP+Slag_NC","day":8.33,"temp":23.8},{"series":"REF+SAP+Slag_NC","day":8.37,"temp":24.9},{"series":"REF+SAP+Slag_NC","day":8.485,"temp":24.6},{"series":"REF+SAP+Slag_NC","day":8.645,"temp":22.2},{"series":"REF+SAP+Slag_NC","day":8.84,"temp":20.6},{"series":"REF+SAP+Slag_NC","day":9.06,"temp":19.8},{"series":"REF+SAP+Slag_NC","day":9.22,"temp":19.8},{"series":"REF+SAP+Slag_NC","day":9.28,"temp":19.2},{"series":"REF+SAP+Slag_NC","day":9.35,"temp":22.2},{"series":"REF+SAP+Slag_NC","day":9.44,"temp":22.5},{"series":"REF+SAP+Slag_NC","day":9.63,"temp":21.1},{"series":"REF+SAP+Slag_NC","day":9.98,"temp":20.3},
{"series":"Air Temp.","day":0.18,"temp":20.3},{"series":"Air Temp.","day":0.24,"temp":27.8},{"series":"Air Temp.","day":0.256,"temp":27.8},{"series":"Air Temp.","day":0.28,"temp":23.3},{"series":"Air Temp.","day":0.3,"temp":23.5},{"series":"Air Temp.","day":0.335,"temp":25.2},{"series":"Air Temp.","day":0.36,"temp":30},{"series":"Air Temp.","day":0.38,"temp":44.2},{"series":"Air Temp.","day":0.406,"temp":42.4},{"series":"Air Temp.","day":0.43,"temp":41.8},{"series":"Air Temp.","day":0.46,"temp":36.5},{"series":"Air Temp.","day":0.48,"temp":35.9},{"series":"Air Temp.","day":0.51,"temp":34.3},{"series":"Air Temp.","day":0.54,"temp":28.9},{"series":"Air Temp.","day":0.575,"temp":20.9},{"series":"Air Temp.","day":0.607,"temp":15.5},{"series":"Air Temp.","day":0.655,"temp":13.3},{"series":"Air Temp.","day":0.72,"temp":11.7},{"series":"Air Temp.","day":0.815,"temp":10.1},{"series":"Air Temp.","day":0.91,"temp":9.0},{"series":"Air Temp.","day":1.0,"temp":8.2},{"series":"Air Temp.","day":1.04,"temp":8.0},{"series":"Air Temp.","day":1.064,"temp":8.5},{"series":"Air Temp.","day":1.087,"temp":12.8},{"series":"Air Temp.","day":1.12,"temp":18.2},{"series":"Air Temp.","day":1.15,"temp":23.5},{"series":"Air Temp.","day":1.2,"temp":37},{"series":"Air Temp.","day":1.246,"temp":47.7},{"series":"Air Temp.","day":1.29,"temp":55.8},{"series":"Air Temp.","day":1.342,"temp":59.8},{"series":"Air Temp.","day":1.374,"temp":54.7},{"series":"Air Temp.","day":1.406,"temp":53.7},{"series":"Air Temp.","day":1.438,"temp":45},{"series":"Air Temp.","day":1.47,"temp":37},{"series":"Air Temp.","day":1.518,"temp":26.2},{"series":"Air Temp.","day":1.58,"temp":20.3},{"series":"Air Temp.","day":1.646,"temp":17.1},{"series":"Air Temp.","day":1.71,"temp":15.5},{"series":"Air Temp.","day":1.77,"temp":13.9},{"series":"Air Temp.","day":1.87,"temp":12.8},{"series":"Air Temp.","day":1.965,"temp":12.1},{"series":"Air Temp.","day":2.045,"temp":11.8},{"series":"Air Temp.","day":2.077,"temp":15.5},{"series":"Air Temp.","day":2.125,"temp":23.5},{"series":"Air Temp.","day":2.19,"temp":39.7},{"series":"Air Temp.","day":2.22,"temp":45.6},{"series":"Air Temp.","day":2.237,"temp":46.9},{"series":"Air Temp.","day":2.27,"temp":46.1},{"series":"Air Temp.","day":2.3,"temp":51.5},{"series":"Air Temp.","day":2.333,"temp":60.1},{"series":"Air Temp.","day":2.365,"temp":60.6},{"series":"Air Temp.","day":2.41,"temp":56.3},{"series":"Air Temp.","day":2.445,"temp":49.9},{"series":"Air Temp.","day":2.477,"temp":45},{"series":"Air Temp.","day":2.51,"temp":36.5},{"series":"Air Temp.","day":2.54,"temp":27.8},{"series":"Air Temp.","day":2.59,"temp":21.4},{"series":"Air Temp.","day":2.65,"temp":19.0},{"series":"Air Temp.","day":2.75,"temp":18.2},{"series":"Air Temp.","day":2.83,"temp":17.6},{"series":"Air Temp.","day":2.89,"temp":16.6},{"series":"Air Temp.","day":3.0,"temp":16.0},{"series":"Air Temp.","day":3.05,"temp":16.6},{"series":"Air Temp.","day":3.1,"temp":21.4},{"series":"Air Temp.","day":3.15,"temp":28.9},{"series":"Air Temp.","day":3.19,"temp":35.4},{"series":"Air Temp.","day":3.24,"temp":36.7},{"series":"Air Temp.","day":3.275,"temp":41.8},{"series":"Air Temp.","day":3.3,"temp":44.2},{"series":"Air Temp.","day":3.33,"temp":41.8},{"series":"Air Temp.","day":3.37,"temp":39.7},{"series":"Air Temp.","day":3.42,"temp":37.5},{"series":"Air Temp.","day":3.45,"temp":33.8},{"series":"Air Temp.","day":3.477,"temp":34.6},{"series":"Air Temp.","day":3.5,"temp":32.2},{"series":"Air Temp.","day":3.53,"temp":27.3},{"series":"Air Temp.","day":3.595,"temp":23},{"series":"Air Temp.","day":3.66,"temp":19.2},{"series":"Air Temp.","day":3.72,"temp":18.2},{"series":"Air Temp.","day":3.82,"temp":16},{"series":"Air Temp.","day":3.915,"temp":14.7},{"series":"Air Temp.","day":3.98,"temp":13.6},{"series":"Air Temp.","day":4.04,"temp":12.8},{"series":"Air Temp.","day":4.075,"temp":15},{"series":"Air Temp.","day":4.12,"temp":26.2},{"series":"Air Temp.","day":4.17,"temp":37},{"series":"Air Temp.","day":4.21,"temp":47.7},{"series":"Air Temp.","day":4.235,"temp":48.8},{"series":"Air Temp.","day":4.257,"temp":54.2},{"series":"Air Temp.","day":4.28,"temp":57.2},{"series":"Air Temp.","day":4.315,"temp":53.1},{"series":"Air Temp.","day":4.346,"temp":47.7},{"series":"Air Temp.","day":4.38,"temp":44},{"series":"Air Temp.","day":4.41,"temp":44},{"series":"Air Temp.","day":4.44,"temp":43.4},{"series":"Air Temp.","day":4.475,"temp":40.8},{"series":"Air Temp.","day":4.505,"temp":34.3},{"series":"Air Temp.","day":4.55,"temp":25.7},{"series":"Air Temp.","day":4.62,"temp":20.3},{"series":"Air Temp.","day":4.68,"temp":17.1},{"series":"Air Temp.","day":4.76,"temp":15.5},{"series":"Air Temp.","day":4.82,"temp":13.9},{"series":"Air Temp.","day":4.9,"temp":13.1},{"series":"Air Temp.","day":5.0,"temp":12.5},{"series":"Air Temp.","day":5.05,"temp":12.8},{"series":"Air Temp.","day":5.08,"temp":18.2},{"series":"Air Temp.","day":5.13,"temp":28.9},{"series":"Air Temp.","day":5.19,"temp":40.8},{"series":"Air Temp.","day":5.257,"temp":53.1},{"series":"Air Temp.","day":5.3,"temp":59},{"series":"Air Temp.","day":5.346,"temp":61.2},{"series":"Air Temp.","day":5.385,"temp":58.5},{"series":"Air Temp.","day":5.43,"temp":53.1},{"series":"Air Temp.","day":5.48,"temp":42.4},{"series":"Air Temp.","day":5.53,"temp":28.9},{"series":"Air Temp.","day":5.577,"temp":19.2},{"series":"Air Temp.","day":5.64,"temp":16},{"series":"Air Temp.","day":5.74,"temp":12.8},{"series":"Air Temp.","day":5.83,"temp":10.9},{"series":"Air Temp.","day":5.93,"temp":9.3},{"series":"Air Temp.","day":6.02,"temp":8.8},{"series":"Air Temp.","day":6.07,"temp":9.8},{"series":"Air Temp.","day":6.105,"temp":18.2},{"series":"Air Temp.","day":6.135,"temp":26.2},{"series":"Air Temp.","day":6.17,"temp":30},{"series":"Air Temp.","day":6.2,"temp":42.4},{"series":"Air Temp.","day":6.23,"temp":51.5},{"series":"Air Temp.","day":6.28,"temp":59.6},{"series":"Air Temp.","day":6.34,"temp":63.3},{"series":"Air Temp.","day":6.38,"temp":62.8},{"series":"Air Temp.","day":6.42,"temp":55.8},{"series":"Air Temp.","day":6.455,"temp":45},{"series":"Air Temp.","day":6.48,"temp":37.5},{"series":"Air Temp.","day":6.5,"temp":36.5},{"series":"Air Temp.","day":6.535,"temp":28.9},{"series":"Air Temp.","day":6.58,"temp":20.9},{"series":"Air Temp.","day":6.65,"temp":17.1},{"series":"Air Temp.","day":6.73,"temp":14.9},{"series":"Air Temp.","day":6.81,"temp":13.9},{"series":"Air Temp.","day":6.87,"temp":13.3},{"series":"Air Temp.","day":6.95,"temp":12.5},{"series":"Air Temp.","day":7.03,"temp":11.7},{"series":"Air Temp.","day":7.08,"temp":13.3},{"series":"Air Temp.","day":7.11,"temp":18.2},{"series":"Air Temp.","day":7.16,"temp":31.6},{"series":"Air Temp.","day":7.2,"temp":45},{"series":"Air Temp.","day":7.25,"temp":56.9},{"series":"Air Temp.","day":7.3,"temp":61.2},{"series":"Air Temp.","day":7.33,"temp":62.3},{"series":"Air Temp.","day":7.35,"temp":61.5},{"series":"Air Temp.","day":7.37,"temp":61.7},{"series":"Air Temp.","day":7.4,"temp":57.4},{"series":"Air Temp.","day":7.446,"temp":46.1},{"series":"Air Temp.","day":7.49,"temp":34.3},{"series":"Air Temp.","day":7.56,"temp":23.5},{"series":"Air Temp.","day":7.62,"temp":18.2},{"series":"Air Temp.","day":7.72,"temp":15.5},{"series":"Air Temp.","day":7.83,"temp":14.4},{"series":"Air Temp.","day":7.925,"temp":15.5},{"series":"Air Temp.","day":8.02,"temp":15.2},{"series":"Air Temp.","day":8.05,"temp":16.6},{"series":"Air Temp.","day":8.09,"temp":19.8},{"series":"Air Temp.","day":8.13,"temp":20.3},{"series":"Air Temp.","day":8.165,"temp":26.2},{"series":"Air Temp.","day":8.2,"temp":34.3},{"series":"Air Temp.","day":8.23,"temp":32.2},{"series":"Air Temp.","day":8.255,"temp":37},{"series":"Air Temp.","day":8.285,"temp":43.4},{"series":"Air Temp.","day":8.31,"temp":41.6},{"series":"Air Temp.","day":8.335,"temp":48.3},{"series":"Air Temp.","day":8.357,"temp":46.7},{"series":"Air Temp.","day":8.39,"temp":39.7},{"series":"Air Temp.","day":8.42,"temp":31.6},{"series":"Air Temp.","day":8.45,"temp":26.2},{"series":"Air Temp.","day":8.485,"temp":23.5},{"series":"Air Temp.","day":8.53,"temp":19.2},{"series":"Air Temp.","day":8.58,"temp":17.1},{"series":"Air Temp.","day":8.645,"temp":16.6},{"series":"Air Temp.","day":8.74,"temp":16.6},{"series":"Air Temp.","day":8.84,"temp":16.7},{"series":"Air Temp.","day":8.885,"temp":16},{"series":"Air Temp.","day":8.965,"temp":16},{"series":"Air Temp.","day":9.03,"temp":16.6},{"series":"Air Temp.","day":9.08,"temp":18.7},{"series":"Air Temp.","day":9.13,"temp":20.9},{"series":"Air Temp.","day":9.2,"temp":23.5},{"series":"Air Temp.","day":9.25,"temp":34.3},{"series":"Air Temp.","day":9.28,"temp":40.2},{"series":"Air Temp.","day":9.31,"temp":40.8},{"series":"Air Temp.","day":9.33,"temp":44.2},{"series":"Air Temp.","day":9.356,"temp":44},{"series":"Air Temp.","day":9.38,"temp":37},{"series":"Air Temp.","day":9.41,"temp":30},{"series":"Air Temp.","day":9.46,"temp":24.6},{"series":"Air Temp.","day":9.51,"temp":21.4},{"series":"Air Temp.","day":9.57,"temp":18.7},{"series":"Air Temp.","day":9.67,"temp":17.6},{"series":"Air Temp.","day":9.8,"temp":17.4},{"series":"Air Temp.","day":9.89,"temp":16.8},{"series":"Air Temp.","day":9.98,"temp":17}
]},
"layer": [
{
"data": {"name": "temps"},
"mark": {"type": "line", "strokeJoin": "round"},
"encoding": {
"x": {"field": "day", "type": "quantitative", "scale": {"domain": [0, 10], "nice": false},
 "axis": {"title": "Elapsed Time, (Days)", "titleFont": "Lato", "titleFontSize": 27, "titleFontWeight": "bold", "titleColor": "black", "titlePadding": 5,
  "values": [0,1,2,3,4,5,6,7,8,9,10], "format": "d", "labelFont": "Lato", "labelFontSize": 19, "labelColor": "black", "labelPadding": 20, "labelFlush": false,
  "ticks": false, "domainColor": "#002060", "domainWidth": 2, "grid": true, "gridColor": "#D9D9D9", "gridWidth": 1.5}},
"y": {"field": "temp", "type": "quantitative", "scale": {"domain": [0, 70], "nice": false},
 "axis": {"title": "Temperature, (ºC)", "titleFont": "Lato", "titleFontSize": 28, "titleFontWeight": "bold", "titleColor": "black", "titlePadding": 21,
  "values": [0,10,20,30,40,50,60,70], "format": "d", "labelOverlap": false,
  "labelFont": "Lato", "labelFontSize": 19, "labelColor": "black", "labelPadding": 20,
  "ticks": false, "domainColor": "#002060", "domainWidth": 2, "grid": true, "gridColor": "#D9D9D9", "gridWidth": 1.5}},
"color": {"field": "series", "type": "nominal",
 "scale": {"domain": ["REF_NC","REF+NS_NC","REF+Slag_NC","REF+Slag+NS_NC","REF+SAP_NC","REF+SAP+Slag_NC","Air Temp."],
  "range": ["#F03CE8","#ED7D31","#7030A0","#33EE33","#00B0F0","#FF0000","#002060"]},
 "legend": {"orient": "none", "legendX": -57, "legendY": -86, "direction": "horizontal", "columns": 4, "title": null,
  "symbolType": "M-4,0H4", "symbolSize": 264, "symbolStrokeWidth": 4, "labelFont": "Lato", "labelFontSize": 21, "labelFontWeight": "bold",
  "labelColor": "black", "labelOffset": 34, "columnPadding": 27, "rowPadding": 14, "gridAlign": "all", "labelLimit": 300, "padding": 0,
  "encode": {"symbols": {"update": {"strokeWidth": [{"test": "datum.label === 'Air Temp.'", "value": 2}, {"value": 4}]}}}}},
"strokeDash": {"field": "series", "type": "nominal",
 "scale": {"domain": ["REF_NC","REF+NS_NC","REF+Slag_NC","REF+Slag+NS_NC","REF+SAP_NC","REF+SAP+Slag_NC","Air Temp."],
  "range": [[1,0],[1,0],[9,4],[9,4],[16,6,2,6,2,6],[16,6,2,6,2,6],[1,0]]}},
"strokeWidth": {"field": "series", "type": "nominal",
 "scale": {"type": "ordinal", "domain": ["REF_NC","REF+NS_NC","REF+Slag_NC","REF+Slag+NS_NC","REF+SAP_NC","REF+SAP+Slag_NC","Air Temp."],
  "range": [4,4.5,4,4,4.5,4.5,2]}, "legend": null}
}
},
{
"data": {"name": "majorTicks"},
"mark": {"type": "tick", "orient": "horizontal", "size": 15, "thickness": 1.5, "color": "#002060", "opacity": 1},
"encoding": {"x": {"datum": 0, "type": "quantitative"}, "y": {"field": "temp", "type": "quantitative"}}
},
{
"data": {"name": "minorTicks"},
"mark": {"type": "tick", "orient": "horizontal", "size": 5, "thickness": 1.5, "color": "#002060", "opacity": 1, "xOffset": -2.6},
"encoding": {"x": {"datum": 0, "type": "quantitative"}, "y": {"field": "temp", "type": "quantitative"}}
},
{
"data": {"name": "circle"},
"mark": {"type": "point", "shape": "circle", "size": 49300, "filled": true, "fill": "#F8EFCB", "fillOpacity": 0.36, "opacity": 1,
 "stroke": "#00B050", "strokeOpacity": 1, "strokeWidth": 2.5, "strokeDash": [12,5,2,5]},
"encoding": {"x": {"field": "day", "type": "quantitative"}, "y": {"field": "temp", "type": "quantitative"}}
}
]
}
